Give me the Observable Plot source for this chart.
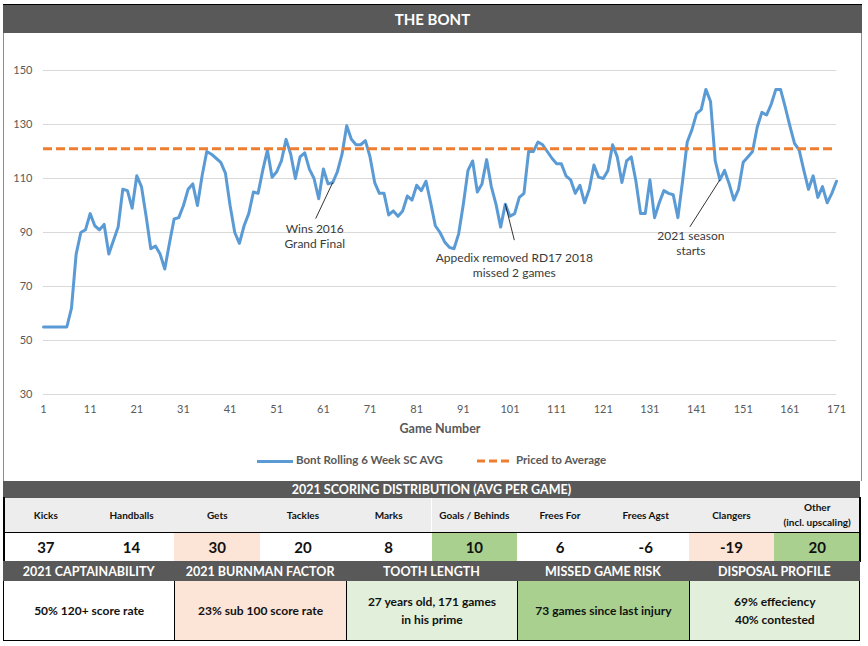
<!DOCTYPE html>
<html>
<head>
<meta charset="utf-8">
<script src="https://cdn.jsdelivr.net/npm/d3@7"></script>
<script src="https://cdn.jsdelivr.net/npm/@observablehq/plot@0.6"></script>
<style>
  html, body { margin: 0; padding: 0; background: #fff; }
  body { font-family: Lato, "Open Sans", sans-serif; }
  #frame { position: relative; width: 868px; height: 646px; overflow: hidden; background: #fff; }
  .abs { position: absolute; box-sizing: border-box; }
  .cell { position: absolute; box-sizing: border-box; display: flex; align-items: center; justify-content: center; text-align: center; }
</style>
</head>
<body>
<div id="frame"></div>
<script>
// ---------------- DATA ----------------
const chartTitle = "THE BONT";
const seriesName = "Bont Rolling 6 Week SC AVG";
const pricedName = "Priced to Average";
const pricedAverage = 121;
const rolling = [
  55, 55, 55, 55, 55, 55, 62, 82, 90, 91,            // 1-10
  97, 92.5, 91, 93, 82, 87, 92, 106, 105.5, 99,      // 11-20
  111, 107, 96, 84, 85, 82, 76.5, 86, 95, 95.5,      // 21-30
  100, 106, 108, 100, 111, 120, 119, 117.5, 116, 112,// 31-40
  100, 90, 86, 92.5, 97, 105, 104.5, 113, 120.5, 110.5, // 41-50
  112.5, 116.5, 124.5, 119, 110, 118, 119.5, 113.5, 110, 102.5, // 51-60
  113.5, 108, 108.5, 112.5, 119, 129.5, 124.5, 122.5, 122.5, 124, // 61-70
  118, 108.5, 104.5, 104.5, 96.5, 98, 96, 98, 103.5, 102, // 71-80
  107.5, 105.5, 109, 101, 92.5, 90, 86.5, 84.5, 84, 89.5, // 81-90
  100.5, 113, 116.5, 105, 108, 117, 107, 100.5, 92, 100.5, // 91-100
  96, 97, 103, 104.5, 120, 120, 123.5, 122.5, 120, 117.5, // 101-110
  115.5, 115.5, 111, 109.5, 104.5, 107.5, 101, 106, 115, 110.5, // 111-120
  110, 113, 122.5, 118, 108.5, 116.5, 118, 109, 97, 97, // 121-130
  109.5, 95.5, 101, 105.5, 104.5, 104, 95.5, 109, 123.5, 128, // 131-140
  134, 135.5, 143, 138.5, 116.5, 109.5, 113, 108, 102, 106, // 141-150
  116, 118, 120, 129, 134.5, 133.5, 137.5, 143, 143, 136.5, // 151-160
  129.5, 123, 120.5, 113, 106, 111, 103, 107, 101, 104.5, // 161-170
  109                                                  // 171
];
const xTicks = [1, 11, 21, 31, 41, 51, 61, 71, 81, 91, 101, 111, 121, 131, 141, 151, 161, 171];
const yTicks = [30, 50, 70, 90, 110, 130, 150];
const xLabel = "Game Number";
const annotations = [
  {game: 63, text: "Wins 2016\nGrand Final"},
  {game: 100, text: "Appedix removed RD17 2018\nmissed 2 games"},
  {game: 146, text: "2021 season\nstarts"}
];

const scoringTitle = "2021 SCORING DISTRIBUTION (AVG PER GAME)";
const scoreCategories = ["Kicks", "Handballs", "Gets", "Tackles", "Marks", "Goals / Behinds", "Frees For", "Frees Agst", "Clangers", "Other\n(incl. upscaling)"];
const scoreValues = [37, 14, 30, 20, 8, 10, 6, -6, -19, 20];

const profileHeaders = ["2021 CAPTAINABILITY", "2021 BURNMAN FACTOR", "TOOTH LENGTH", "MISSED GAME RISK", "DISPOSAL PROFILE"];
const profileValues = ["50% 120+ score rate", "23% sub 100 score rate", "27 years old, 171 games\nin his prime", "73 games since last injury", "69% effeciency\n40% contested"];

// ---------------- STYLE MAPS ----------------
const PINK = "#fce4d6", GREEN = "#a9d08e", LIGHTGREEN = "#e2efda", DARK = "#595959";
const scoreFill = {"Gets": PINK, "Goals / Behinds": GREEN, "Clangers": PINK, "Other\n(incl. upscaling)": GREEN};
const profileFill = {"2021 BURNMAN FACTOR": PINK, "TOOTH LENGTH": LIGHTGREEN, "MISSED GAME RISK": GREEN, "DISPOSAL PROFILE": LIGHTGREEN};
const annOffsets = {63: {dx: -17, dy: 36, tdx: -18, tdy: 53}, 100: {dx: 9, dy: 36, tdx: 9, tdy: 61}, 146: {dx: -30, dy: 47, tdx: -29, tdy: 63}};

// ---------------- BUILD ----------------
const frame = document.getElementById("frame");
const FONT = "Lato, 'Open Sans', sans-serif";

const data = rolling.map((v, i) => ({game: i + 1, value: v}));
const annData = annotations.map(a => ({...a, value: rolling[a.game - 1], ...annOffsets[a.game]}));

const svg = Plot.plot({
  width: 868,
  height: 440,
  marginLeft: 43,
  marginRight: 32,
  marginTop: 70,
  marginBottom: 46,
  style: {fontFamily: FONT, fontSize: "11px", color: "#595959", background: "transparent"},
  x: {domain: [1, 171]},
  y: {domain: [30, 150]},
  marks: [
    Plot.ruleY(yTicks, {stroke: "#d9d9d9", strokeWidth: 1}),
    Plot.axisY({ticks: yTicks, tickSize: 0, tickPadding: 11, label: null, fill: "#595959"}),
    Plot.axisX({ticks: xTicks, tickSize: 0, tickPadding: 11, tickFormat: d => String(d), label: null, fill: "#595959"}),
    Plot.text([xLabel], {frameAnchor: "bottom", dy: 38, fontWeight: "bold", fontSize: 12.5, fill: "#595959"}),
    Plot.line(data, {x: "game", y: "value", stroke: "#5b9bd5", strokeWidth: 3, strokeLinejoin: "round", strokeLinecap: "round"}),
    Plot.ruleY([pricedAverage], {x1: 1, x2: 171, stroke: "#ed7d31", strokeWidth: 3, strokeDasharray: "9,4"}),
    Plot.link(annData, {x1: "game", y1: "value", x2: "game", y2: "value", stroke: "#000", strokeWidth: 0.8,
      render: (index, scales, values, dims, ctx, next) => {
        const g = next(index, scales, values, dims, ctx);
        d3.select(g).selectAll("path").each(function(i, k) {
          const d = annData[index[k]];
          const x = scales.x(d.game), y = scales.y(d.value);
          d3.select(this).attr("d", `M${x},${y}L${x + d.dx},${y + d.dy}`);
        });
        return g;
      }}),
    Plot.text(annData, {x: "game", y: "value", text: "text", fontSize: 12, fill: "#3a3a3a", lineHeight: 1.25,
      render: (index, scales, values, dims, ctx, next) => {
        const g = next(index, scales, values, dims, ctx);
        d3.select(g).selectAll("text").each(function(i, k) {
          const d = annData[index[k]];
          d3.select(this).attr("transform", `translate(${scales.x(d.game) + d.tdx},${scales.y(d.value) + d.tdy})`);
        });
        return g;
      }})
  ]
});
svg.style.position = "absolute";
svg.style.left = "0px";
svg.style.top = "0px";
frame.appendChild(svg);

function el(tag, cls, css, text) {
  const e = document.createElement(tag);
  if (cls) e.className = cls;
  Object.assign(e.style, css);
  if (text != null) e.textContent = text;
  frame.appendChild(e);
  return e;
}

// chart frame borders
el("div", "abs", {left: "3px", top: "33px", width: "859px", height: "448px", borderLeft: "1px solid #8c8c8c", borderRight: "1px solid #8c8c8c"});
// title bar
el("div", "cell", {left: "3px", top: "4px", width: "859px", height: "29px", background: DARK, borderTop: "1.5px solid #000", color: "#fff", fontWeight: "bold", fontSize: "15px", fontFamily: FONT}, chartTitle);

// legend
const leg = el("div", "abs", {left: "0px", top: "453px", width: "868px", height: "16px", fontFamily: FONT, fontSize: "11.5px", fontWeight: "bold", color: "#595959"});
leg.innerHTML = `
  <div style="position:absolute;left:257px;top:6.5px;width:36px;height:3px;background:#5b9bd5"></div>
  <div style="position:absolute;left:296px;top:0px;white-space:nowrap">${seriesName}</div>
  <svg style="position:absolute;left:477px;top:6px" width="34" height="4"><line x1="0" y1="2" x2="34" y2="2" stroke="#ed7d31" stroke-width="3" stroke-dasharray="8,4"/></svg>
  <div style="position:absolute;left:516px;top:0px;white-space:nowrap">${pricedName}</div>`;

// scoring distribution table
const TL = 3, TW = 857;
el("div", "cell", {left: TL + "px", top: "481px", width: TW + "px", height: "17px", background: DARK, color: "#fff", fontWeight: "bold", fontSize: "12.5px", fontFamily: FONT}, scoringTitle);
const cw = TW / scoreCategories.length;
scoreCategories.forEach((c, i) => {
  el("div", "cell", {left: (TL + i * cw) + "px", top: "498px", width: cw + "px", height: "34px", background: "#ededed", fontWeight: "bold", fontSize: "10px", lineHeight: "1.5", color: "#111", whiteSpace: "pre-line", fontFamily: FONT}, c);
  el("div", "cell", {left: (TL + i * cw) + "px", top: "533px", width: cw + "px", height: "28px", background: scoreFill[c] || "#fff", fontWeight: "bold", fontSize: "15px", color: "#111", fontFamily: FONT}, String(scoreValues[i]));
});
el("div", "abs", {left: TL + "px", top: "531.5px", width: TW + "px", height: "1.5px", background: "#000"});
el("div", "abs", {left: TL + "px", top: "497px", width: "1.5px", height: "65px", background: "#000"});
el("div", "abs", {left: (TL + TW - 1) + "px", top: "497px", width: "1.5px", height: "65px", background: "#000"});

// profile table
const pw = TW / profileHeaders.length;
profileHeaders.forEach((h, i) => {
  el("div", "cell", {left: (TL + i * pw) + "px", top: "561px", width: pw + "px", height: "20px", background: DARK, color: "#fff", fontWeight: "bold", fontSize: "12.5px", fontFamily: FONT}, h);
  el("div", "cell", {left: (TL + i * pw) + "px", top: "581px", width: pw + "px", height: "59px", background: profileFill[h] || "#fff", borderLeft: "1px solid #000", fontWeight: "bold", fontSize: "12px", lineHeight: "1.5", color: "#111", whiteSpace: "pre-line", fontFamily: FONT}, profileValues[i]);
});
el("div", "abs", {left: TL + "px", top: "581px", width: TW + "px", height: "60px", borderLeft: "1.5px solid #000", borderRight: "1.5px solid #000", borderBottom: "1.5px solid #000"});
</script>
</body>
</html>
